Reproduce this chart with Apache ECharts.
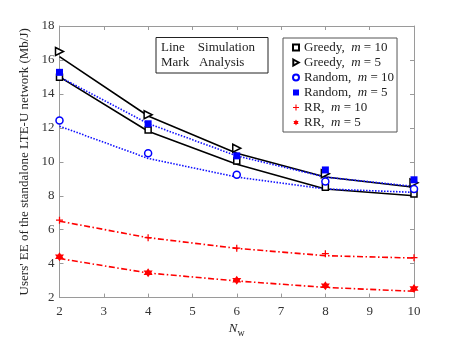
<!DOCTYPE html>
<html>
<head>
<meta charset="utf-8">
<script src="https://cdn.jsdelivr.net/npm/echarts@6/dist/echarts.min.js"></script>
<style>
  html, body { margin: 0; padding: 0; background: #fff; }
  #chart { width: 458px; height: 343px; }
</style>
</head>
<body>
<div id="chart"></div>
<script>
var xs = [2, 4, 6, 8, 10];
// simulation (lines)
var simGreedy10 = [15.0, 11.8, 9.85, 8.4, 8.0];
var simGreedy5 = [16.2, 12.7, 10.5, 9.1, 8.5];
var simRandom10 = [12.1, 10.2, 9.1, 8.4, 8.2];
var simRandom5 = [15.0, 12.25, 10.35, 9.1, 8.55];
var simRR10 = [6.5, 5.53, 4.9, 4.47, 4.33];
var simRR5 = [4.3, 3.45, 2.98, 2.6, 2.37];
// analysis (marks)
var anaGreedy10 = [14.98, 11.87, 10.05, 8.5, 8.1];
var anaGreedy5 = [16.5, 12.77, 10.8, 9.3, 8.76];
var anaRandom10 = [12.43, 10.5, 9.24, 8.84, 8.4];
var anaRandom5 = [15.27, 12.24, 10.35, 9.52, 8.94];
var anaRR10 = [6.56, 5.53, 4.91, 4.59, 4.35];
var anaRR5 = [4.4, 3.47, 3.02, 2.7, 2.54];

var names = ['Greedy, m = 10', 'Greedy, m = 5', 'Random, m = 10', 'Random, m = 5', 'RR, m = 10', 'RR, m = 5'];

var font = 'Liberation Serif';
var triPath = 'path://M-0.8,-1L1,0L-0.8,1Z';
var plusPath = 'path://M-0.18,-1H0.18V-0.18H1V0.18H0.18V1H-0.18V0.18H-1V-0.18H-0.18Z';
var starPath = 'path://M0,-1L0.29,-0.5L0.866,-0.5L0.577,0L0.866,0.5L0.29,0.5L0,1L-0.29,0.5L-0.866,0.5L-0.577,0L-0.866,-0.5L-0.29,-0.5Z';

function pairs(v) {
  var out = [];
  for (var i = 0; i < xs.length; i++) out.push([xs[i], v[i]]);
  return out;
}

function simLine(v, color, type) {
  return {
    type: 'line', data: pairs(v), showSymbol: false, symbol: 'none',
    lineStyle: { color: color, width: 1.6, type: type }, z: 2, silent: true
  };
}
function mark(name, v, symbol, size, fill, stroke) {
  return {
    type: 'scatter', name: name, data: pairs(v), symbol: symbol, symbolSize: size,
    itemStyle: { color: fill, borderColor: stroke, borderWidth: fill === '#fff' ? 1.5 : 0, opacity: 1 },
    z: 3
  };
}

var chart = echarts.init(document.getElementById('chart'));
var option = {
  animation: false,
  grid: { left: 59.5, right: 44, top: 26, bottom: 41 },
  xAxis: [{
    type: 'value', min: 2, max: 10, interval: 1,
    name: '{i|N}{s|w}', nameLocation: 'middle', nameGap: 17,
    nameTextStyle: { rich: {
      i: { fontFamily: font, fontStyle: 'italic', fontSize: 13, color: '#262626' },
      s: { fontFamily: font, fontSize: 10, color: '#262626', padding: [8, 0, 0, 0] }
    } },
    axisLine: { lineStyle: { color: '#9a9a9a', width: 1 } },
    axisTick: { inside: true, length: 4, lineStyle: { color: '#9a9a9a' } },
    axisLabel: { fontFamily: font, fontSize: 13, color: '#333', margin: 7 },
    splitLine: { show: false }
  }, {
    type: 'value', min: 2, max: 10, interval: 1, position: 'top',
    axisLine: { show: true, lineStyle: { color: '#9a9a9a', width: 1 } },
    axisTick: { inside: true, length: 4, lineStyle: { color: '#9a9a9a' } },
    axisLabel: { show: false }, splitLine: { show: false }
  }],
  yAxis: [{
    type: 'value', min: 2, max: 18, interval: 2,
    name: "Users' EE of the standalone LTE-U network (Mb/J)",
    nameLocation: 'middle', nameGap: 21,
    nameTextStyle: { fontFamily: font, fontSize: 13, color: '#262626' },
    axisLine: { show: true, lineStyle: { color: '#9a9a9a', width: 1 } },
    axisTick: { inside: true, length: 4, lineStyle: { color: '#9a9a9a' } },
    axisLabel: { fontFamily: font, fontSize: 13, color: '#333', margin: 5 },
    splitLine: { show: false }
  }, {
    type: 'value', min: 2, max: 18, interval: 2, position: 'right',
    axisLine: { show: true, lineStyle: { color: '#9a9a9a', width: 1 } },
    axisTick: { inside: true, length: 4, lineStyle: { color: '#9a9a9a' } },
    axisLabel: { show: false }, splitLine: { show: false }
  }],
  legend: {
    left: 283, top: 38, orient: 'vertical',
    itemWidth: 6, itemHeight: 6, itemGap: 2,
    padding: [3, 3, 3, 9],
    borderColor: '#555', borderWidth: 1, backgroundColor: '#fff',
    data: names,
    formatter: function (n) {
      var p = n.split(' m ');
      return '{a|' + p[0] + '  }{i|m}{a| ' + p[1] + '}';
    },
    textStyle: { rich: {
      a: { fontFamily: font, fontSize: 13, color: '#222', lineHeight: 13 },
      i: { fontFamily: font, fontSize: 13, fontStyle: 'italic', color: '#222', lineHeight: 13 }
    } }
  },
  graphic: [
    { type: 'rect', shape: { x: 156, y: 37.5, width: 112, height: 35.5 },
      style: { fill: '#fff', stroke: '#222', lineWidth: 1 }, z: 10 },
    { type: 'text', left: 161, top: 41, z: 11,
      style: { text: 'Line    Simulation', font: '13px "Liberation Serif"', fill: '#222' } },
    { type: 'text', left: 161, top: 56, z: 11,
      style: { text: 'Mark   Analysis', font: '13px "Liberation Serif"', fill: '#222' } }
  ],
  series: [
    simLine(simGreedy10, '#000', 'solid'),
    simLine(simGreedy5, '#000', 'solid'),
    simLine(simRandom10, '#1010ff', [1.5, 1.5]),
    simLine(simRandom5, '#1010ff', [1.5, 1.5]),
    simLine(simRR10, '#ff0000', [6, 2.5, 1.5, 2.5]),
    simLine(simRR5, '#ff0000', [6, 2.5, 1.5, 2.5]),
    mark(names[0], anaGreedy10, 'rect', 6, '#fff', '#000'),
    mark(names[1], anaGreedy5, triPath, 8, '#fff', '#000'),
    mark(names[2], anaRandom10, 'circle', 7, '#fff', '#0000ff'),
    mark(names[3], anaRandom5, 'rect', 7, '#0000ff', '#0000ff'),
    mark(names[4], anaRR10, plusPath, 7, '#ff0000', '#ff0000'),
    mark(names[5], anaRR5, starPath, 9, '#ff0000', '#ff0000')
  ]
};
chart.setOption(option);
</script>
</body>
</html>
